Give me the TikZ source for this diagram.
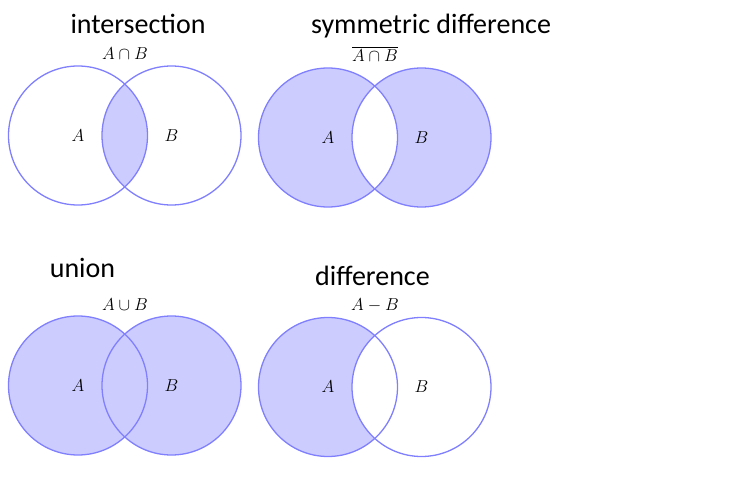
\documentclass[tikz,border=0pt]{standalone}
\usepackage{fontspec}
\usepackage{amsmath}
\newfontfamily\titlefont{Carlito}
\tikzset{venn/.style={circle, draw=blue!50, line width=1.3pt, minimum size=139pt, inner sep=0pt, font=\fontsize{16}{18}\selectfont}}
\tikzset{venntitle/.style={font=\titlefont\fontsize{28}{32}\selectfont, anchor=base, inner sep=0pt}}
\tikzset{vennlabel/.style={font=\fontsize{16}{18}\selectfont, anchor=base, inner sep=0pt}}
\tikzset{vennfill/.style={fill=blue!20}}

\begin{document}
\begin{tikzpicture}[x=1pt,y=-1pt]
\useasboundingbox (0,0) rectangle (753,500);
% intersection
\coordinate (ca1) at (78,135.5);
\coordinate (cb1) at (171.5,135.5);
\begin{scope}
\clip (ca1) circle (69.5pt);
\fill[vennfill] (cb1) circle (69.5pt);
\end{scope}
\draw (138,34) node[venntitle] (t1) {intersection};
\draw (125,60) node[vennlabel] (l1) {$A\cap B$};
\node[venn] (iA) at (ca1) {$A$};
\node[venn] (iB) at (cb1) {$B$};
% symmetric difference
\coordinate (ca2) at (328,137.5);
\coordinate (cb2) at (421.5,137.5);
\fill[vennfill, even odd rule] (ca2) circle (69.5pt) (cb2) circle (69.5pt);
\draw (431,34) node[venntitle] (t2) {symmetric difference};
\draw (375,62) node[vennlabel] (l2) {$\overline{A\cap B}$};
\node[venn] (sA) at (ca2) {$A$};
\node[venn] (sB) at (cb2) {$B$};
% union
\coordinate (ca3) at (78,385.5);
\coordinate (cb3) at (171.5,385.5);
\fill[vennfill] (ca3) circle (69.5pt) (cb3) circle (69.5pt);
\draw (82.5,277) node[venntitle] (t3) {union};
\draw (125,310) node[vennlabel] (l3) {$A\cup B$};
\node[venn] (uA) at (ca3) {$A$};
\node[venn] (uB) at (cb3) {$B$};
% difference
\coordinate (ca4) at (328,387);
\coordinate (cb4) at (421.5,387);
\begin{scope}
\clip (ca4) circle (69.5pt);
\fill[vennfill, even odd rule] (ca4) circle (69.5pt) (cb4) circle (69.5pt);
\end{scope}
\draw (372.5,285) node[venntitle] (t4) {difference};
\draw (375,310.5) node[vennlabel] (l4) {$A-B$};
\node[venn] (dA) at (ca4) {$A$};
\node[venn] (dB) at (cb4) {$B$};
\end{tikzpicture}
\end{document}
